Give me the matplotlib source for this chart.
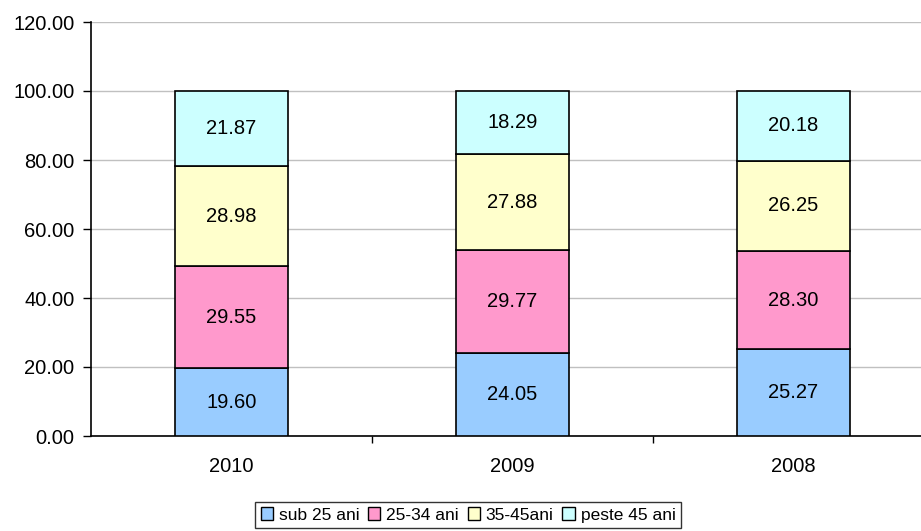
import matplotlib
matplotlib.use("Agg")
import matplotlib.pyplot as plt
import numpy as np
from matplotlib.patches import Patch

plt.rcParams['font.family'] = ['Liberation Sans', 'DejaVu Sans']

# --- DATA ---
years = ["2010", "2009", "2008"]
series_names = ["sub 25 ani", "25-34 ani", "35-45ani", "peste 45 ani"]
sub25 = [19.60, 24.05, 25.27]
age25_34 = [29.55, 29.77, 28.30]
age35_45 = [28.98, 27.88, 26.25]
peste45 = [21.87, 18.29, 20.18]
colors = ["#99CCFF", "#FF99CC", "#FFFFCC", "#CCFFFF"]

series = [sub25, age25_34, age35_45, peste45]
FS = 14.5

# --- PLOT ---
fig = plt.figure(figsize=(9.21, 5.31), dpi=100)
ax = fig.add_axes([91 / 921, 1 - 436 / 531, 843 / 921, 414 / 531])

x = np.arange(len(years))
bottom = np.zeros(len(years))
for vals, col in zip(series, colors):
    bars = ax.bar(x, vals, width=0.4, bottom=bottom, color=col,
                  edgecolor="black", linewidth=1.2, zorder=3)
    for rect, v in zip(bars, vals):
        ax.text(rect.get_x() + rect.get_width() / 2,
                rect.get_y() + rect.get_height() / 2,
                f"{v:.2f}", ha="center", va="center", fontsize=FS, zorder=4)
    bottom += np.array(vals)

ax.set_xlim(-0.5, 2.5)
ax.set_ylim(0, 120)
ax.set_yticks(np.arange(0, 121, 20))
ax.set_yticklabels([f"{v:.2f}" for v in np.arange(0, 121, 20)], fontsize=FS)
ax.yaxis.grid(True, color="#C0C0C0", linewidth=1, zorder=0)

# category labels without ticks; ticks on category boundaries
ax.set_xticks(x)
ax.set_xticklabels(years, fontsize=FS)
ax.tick_params(axis="x", which="major", length=0, pad=15)
ax.set_xticks([0.5, 1.5], minor=True)
ax.tick_params(axis="x", which="minor", length=5, direction="out", width=1)
ax.tick_params(axis="y", length=6, width=1, direction="out", pad=6)

for s in ["top", "right"]:
    ax.spines[s].set_visible(False)
for s in ["left", "bottom"]:
    ax.spines[s].set_linewidth(1.2)

handles = [Patch(facecolor=c, edgecolor="black", linewidth=1) for c in colors]
leg = fig.legend(handles, series_names, loc="center",
                 bbox_to_anchor=(468 / 921, 1 - 515 / 531), ncol=4,
                 fontsize=12.5, frameon=True, fancybox=False,
                 handlelength=0.7, handleheight=0.7, handletextpad=0.35,
                 columnspacing=0.5, borderpad=0.3, borderaxespad=0)
leg.get_frame().set_edgecolor("black")
leg.get_frame().set_linewidth(1)

fig.savefig("out.png", dpi=100)
